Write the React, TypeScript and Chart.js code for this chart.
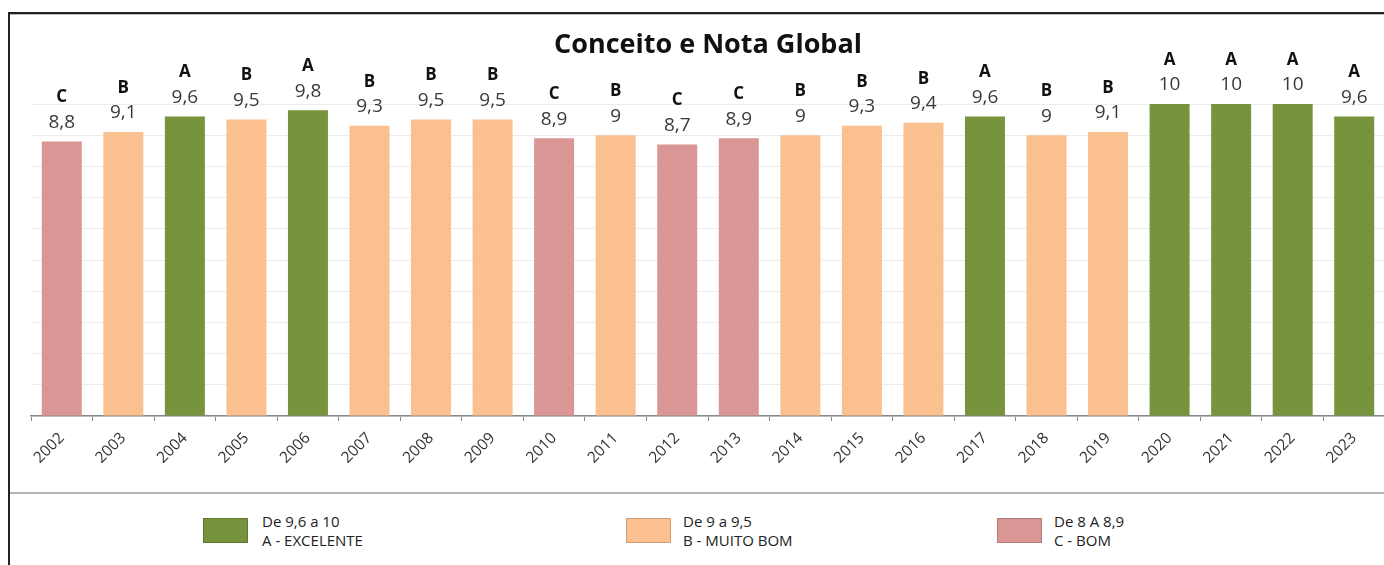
import React, { useEffect, useRef } from "react";
import { Chart, registerables } from "chart.js";

Chart.register(...registerables);

const years = ["2002", "2003", "2004", "2005", "2006", "2007", "2008", "2009", "2010", "2011", "2012", "2013", "2014", "2015", "2016", "2017", "2018", "2019", "2020", "2021", "2022", "2023"];
const notas = [8.8, 9.1, 9.6, 9.5, 9.8, 9.3, 9.5, 9.5, 8.9, 9, 8.7, 8.9, 9, 9.3, 9.4, 9.6, 9, 9.1, 10, 10, 10, 9.6];
const conceitos = ["C", "B", "A", "B", "A", "B", "B", "B", "C", "B", "C", "C", "B", "B", "B", "A", "B", "B", "A", "A", "A", "A"];

const gradeColors: Record<string, string> = { A: "#77933C", B: "#FAC090", C: "#D99694" };
const legendItems = [
  { grade: "A", line1: "De 9,6 a 10", line2: "A - EXCELENTE" },
  { grade: "B", line1: "De 9 a 9,5", line2: "B - MUITO BOM" },
  { grade: "C", line1: "De 8 A 8,9", line2: "C - BOM" },
];
const title = "Conceito e Nota Global";
const FONT = "'Open Sans', 'DejaVu Sans', sans-serif";

const labelPlugin = {
  id: "gradeLabels",
  afterDatasetsDraw(chart: any) {
    const ctx = chart.ctx;
    const meta = chart.getDatasetMeta(0);
    ctx.save();
    ctx.textAlign = "center";
    ctx.textBaseline = "middle";
    meta.data.forEach((bar: any, i: number) => {
      const x = bar.x;
      const y = bar.y;
      ctx.fillStyle = "#3a3a3a";
      ctx.font = `19px ${FONT}`;
      ctx.fillText(String(notas[i]).replace(".", ","), x, y - 19);
      ctx.fillStyle = "#111";
      ctx.font = `bold 17px ${FONT}`;
      ctx.fillText(conceitos[i], x, y - 44);
    });
    ctx.restore();
  },
};

export default function App() {
  const ref = useRef<HTMLCanvasElement>(null);
  useEffect(() => {
    document.documentElement.style.overflow = "hidden";
    const chart = new Chart(ref.current!, {
      type: "bar",
      data: {
        labels: years,
        datasets: [
          {
            data: notas,
            backgroundColor: conceitos.map((c) => gradeColors[c]),
            barPercentage: 1,
            categoryPercentage: 0.65,
          },
        ],
      },
      options: {
        responsive: false,
        animation: false,
        devicePixelRatio: 1,
        layout: { padding: { left: 21, right: 3, top: 0, bottom: 0 } },
        plugins: {
          legend: { display: false },
          tooltip: { enabled: false },
          title: {
            display: true,
            text: title,
            color: "#111",
            font: { family: FONT, size: 27, weight: "bold" },
            padding: { top: 15, bottom: 42.6 },
          },
        },
        scales: {
          x: {
            afterFit: (scale: any) => {
              scale.height = 77;
            },
            border: { color: "#888", width: 1.5 },
            grid: { drawOnChartArea: false, drawTicks: true, tickLength: 5, color: "#888", offset: true },
            ticks: {
              autoSkip: false,
              minRotation: 45,
              maxRotation: 45,
              color: "#333",
              padding: 8,
              font: { family: FONT, size: 15.5 },
            },
          },
          y: {
            min: 0,
            max: 10,
            border: { display: false },
            grid: { color: "#ececec", drawTicks: false },
            ticks: { display: false, stepSize: 1 },
          },
        },
      },
      plugins: [labelPlugin],
    } as any);
    return () => chart.destroy();
  }, []);

  return (
    <div style={{ position: "fixed", left: 0, top: 0, width: 1384, height: 565, overflow: "hidden", background: "#fff" }}>
      <div style={{ position: "absolute", left: 8, top: 12, width: 1400, height: 600, borderLeft: "2px solid #222", borderTop: "2px solid #222" }} />
      <div style={{ position: "absolute", left: 10, top: 14, width: 1400, height: 1, background: "#bbb" }} />
      <canvas ref={ref} width={1378} height={479} style={{ position: "absolute", left: 10, top: 14 }} />
      <div style={{ position: "absolute", left: 10, top: 492, width: 1400, height: 2, background: "#b5b5b5" }} />
      {legendItems.map((it, i) => {
        const sx = [203, 626, 997][i];
        return (
          <div key={it.grade}>
            <div style={{ position: "absolute", left: sx, top: 518, width: 45, height: 25, background: gradeColors[it.grade], boxSizing: "border-box", border: "1px solid rgba(0,0,0,0.18)" }} />
            <div style={{ position: "absolute", left: sx + 59 - (i === 0 ? 0 : 2), top: 512, fontFamily: FONT, fontSize: 15, lineHeight: "19px", color: "#222", whiteSpace: "nowrap" }}>
              <div>{it.line1}</div>
              <div>{it.line2}</div>
            </div>
          </div>
        );
      })}
    </div>
  );
}
